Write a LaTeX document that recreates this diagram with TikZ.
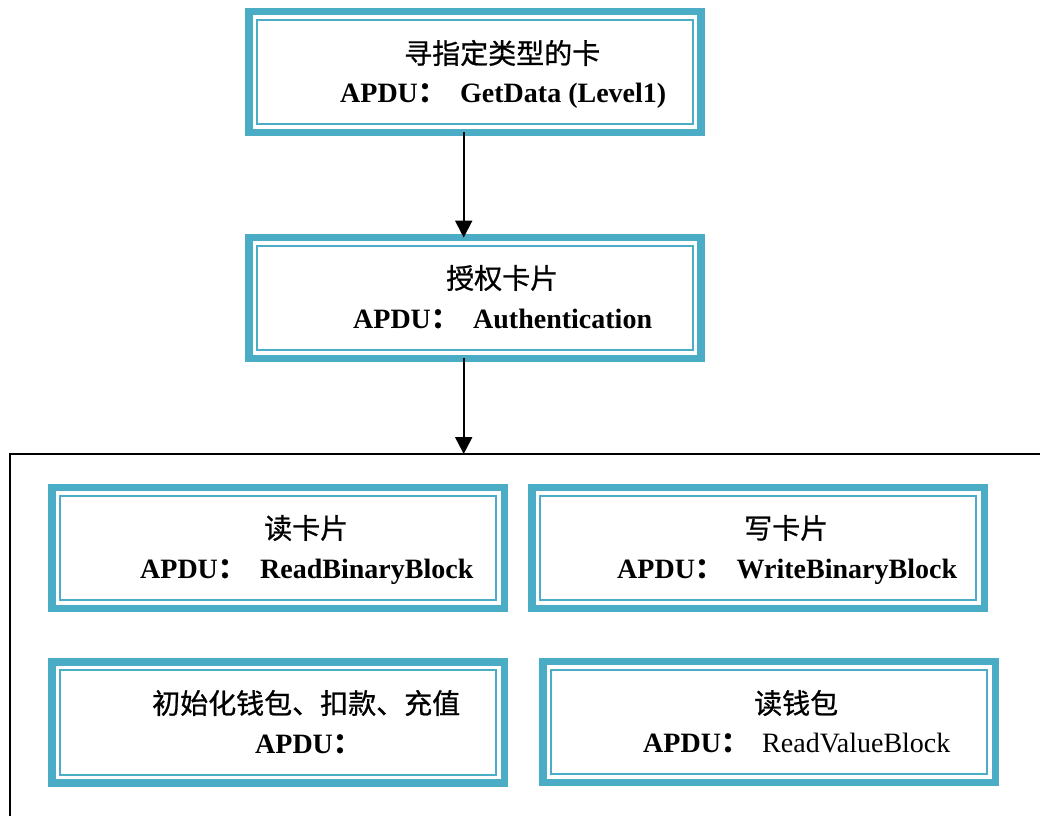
\documentclass[tikz,border=0pt]{standalone}
\usepackage{fontspec}
\setmainfont{Liberation Serif}
\newfontfamily\cjk[FakeBold=0.8]{Noto Sans CJK SC}
\usetikzlibrary{arrows.meta}
\definecolor{boxteal}{HTML}{4BACC6}
\tikzset{
  cardbox/.style={draw=boxteal, line width=7.7pt, outer sep=0pt, inner sep=0pt,
    minimum width=452.3pt, minimum height=120.8pt},
  innerline/.style={draw=boxteal, line width=2pt},
  head/.style={font=\cjk\fontsize{28pt}{30pt}\selectfont, anchor=west, inner sep=0pt},
  cmd/.style={font=\bfseries\fontsize{28pt}{30pt}\selectfont, anchor=base west, inner sep=0pt},
  cmdplain/.style={font=\fontsize{28pt}{30pt}\selectfont, anchor=base west, inner sep=0pt},
  flow/.style={draw=black, line width=2pt, -{Triangle[width=17pt,length=17pt]}},
  groupframe/.style={draw=black, line width=2pt},
}
\begin{document}
\begin{tikzpicture}[x=1pt, y=-1pt]
\useasboundingbox (0,0) rectangle (1040,816);

% framed boxes
\node[cardbox] (b1) at (475,72) {};
\node[cardbox] (b2) at (475,298) {};
\node[cardbox] (b3) at (278.2,548) {};
\node[cardbox] (b4) at (758.2,548) {};
\node[cardbox] (b5) at (278.2,722.5) {};
\node[cardbox] (b6) at (769.2,722) {};
\foreach \b in {b1,b2,b3,b4,b5,b6}
  \draw[innerline] ([shift={(8pt,-8pt)}]\b.north west) rectangle ([shift={(-8pt,8pt)}]\b.south east);

% group frame around the operations
\coordinate (ftop) at (463.7,454);
\draw[groupframe] (1040,454) -- (10,454) -- (10,816);

% texts
\node[head] (t1a) at (404,53) {寻指定类型的卡};
\node[cmd] (t1b) at (340,102) {APDU{\cjk ：}};
\node[cmd] (t1c) at (460,102) {GetData (Level1)};

\node[head] (t2a) at (446,278) {授权卡片};
\node[cmd] (t2b) at (353,328) {APDU{\cjk ：}};
\node[cmd] (t2c) at (473,328) {Authentication};

\node[head] (t3a) at (264,528) {读卡片};
\node[cmd] (t3b) at (140,578) {APDU{\cjk ：}};
\node[cmd] (t3c) at (260,578) {ReadBinaryBlock};

\node[head] (t4a) at (744,528) {写卡片};
\node[cmd] (t4b) at (617,578) {APDU{\cjk ：}};
\node[cmd] (t4c) at (736.5,578) {WriteBinaryBlock};

\node[head] (t5a) at (152,703) {初始化钱包、扣款、充值};
\node[cmd] (t5b) at (255,753) {APDU{\cjk ：}};

\node[head] (t6a) at (754,703) {读钱包};
\node[cmd] (t6b) at (643,752) {APDU{\cjk ：}};
\node[cmdplain] (t6c) at (762,752) {ReadValueBlock};

% connectors
\draw[flow] (b1.south -| ftop) -- (b2.north -| ftop);
\draw[flow] (b2.south -| ftop) -- (ftop);
\end{tikzpicture}
\end{document}
